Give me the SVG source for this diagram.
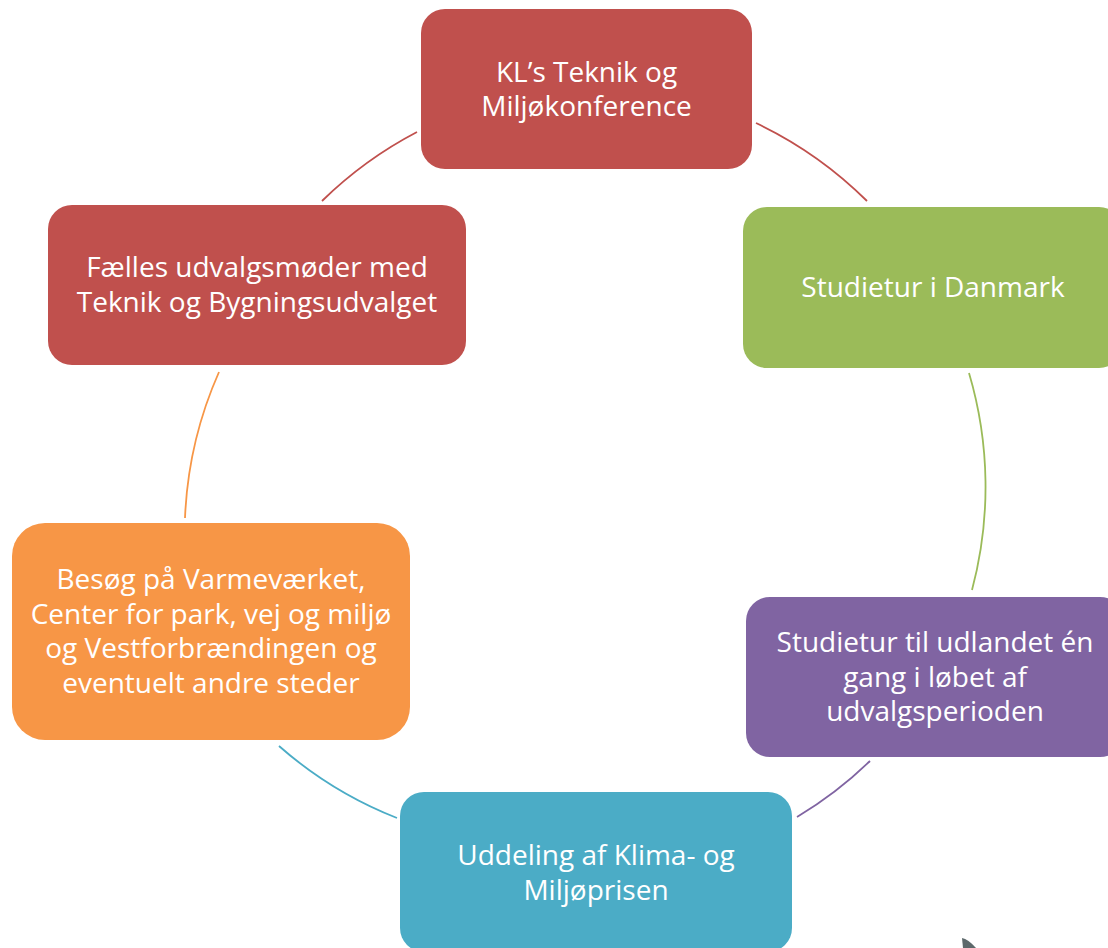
<svg xmlns="http://www.w3.org/2000/svg" width="1108" height="948" viewBox="0 0 1108 948">
<style>
.box{stroke:none}
.lbl{font-family:"Open Sans","Noto Sans","Liberation Sans",sans-serif;font-size:28px;fill:#ffffff;text-anchor:middle}
.con{fill:none;stroke-width:1.8}
</style>
<rect width="1108" height="948" fill="#ffffff"/>
<g id="connectors">
<path class="con" stroke="#C0504D" d="M756,123 A400,400 0 0 1 867,201"/>
<path class="con" stroke="#9BBB59" d="M969,373 A400,400 0 0 1 972,590"/>
<path class="con" stroke="#8064A2" d="M870,761 A400,400 0 0 1 797,817"/>
<path class="con" stroke="#4BACC6" d="M397,818 A400,400 0 0 1 279,746"/>
<path class="con" stroke="#F79646" d="M185,518 A400,400 0 0 1 219,372"/>
<path class="con" stroke="#C0504D" d="M322,201 A400,400 0 0 1 417,132"/>
</g>
<g id="node-kl">
<rect class="box" x="421" y="9" width="331" height="160" rx="24" fill="#C0504D"/>
<text class="lbl" x="586.5" y="82">KL’s Teknik og</text>
<text class="lbl" x="586.5" y="116">Miljøkonference</text>
</g>
<g id="node-danmark">
<rect class="box" x="743" y="207" width="380" height="161" rx="24" fill="#9BBB59"/>
<text class="lbl" x="933" y="297">Studietur i Danmark</text>
</g>
<g id="node-udland">
<rect class="box" x="746" y="597" width="378" height="160" rx="24" fill="#8064A2"/>
<text class="lbl" x="935" y="652">Studietur til udlandet én</text>
<text class="lbl" x="935" y="687">gang i løbet af</text>
<text class="lbl" x="935" y="721">udvalgsperioden</text>
</g>
<g id="node-pris">
<rect class="box" x="400" y="792" width="392" height="160" rx="24" fill="#4BACC6"/>
<text class="lbl" x="596" y="865">Uddeling af Klima- og</text>
<text class="lbl" x="596" y="900">Miljøprisen</text>
</g>
<g id="node-besog">
<rect class="box" x="12" y="523" width="398" height="217" rx="33" fill="#F79646"/>
<text class="lbl" x="211" y="588.5">Besøg på Varmeværket,</text>
<text class="lbl" x="211" y="623.5">Center for park, vej og miljø</text>
<text class="lbl" x="211" y="658">og Vestforbrændingen og</text>
<text class="lbl" x="211" y="693">eventuelt andre steder</text>
</g>
<g id="node-faelles">
<rect class="box" x="48" y="205" width="418" height="160" rx="24" fill="#C0504D"/>
<text class="lbl" x="257" y="277">Fælles udvalgsmøder med</text>
<text class="lbl" x="257" y="312">Teknik og Bygningsudvalget</text>
</g>
<path d="M962,938 Q968,939 976,948 L963,948 Z" fill="#5d696b"/>
</svg>
